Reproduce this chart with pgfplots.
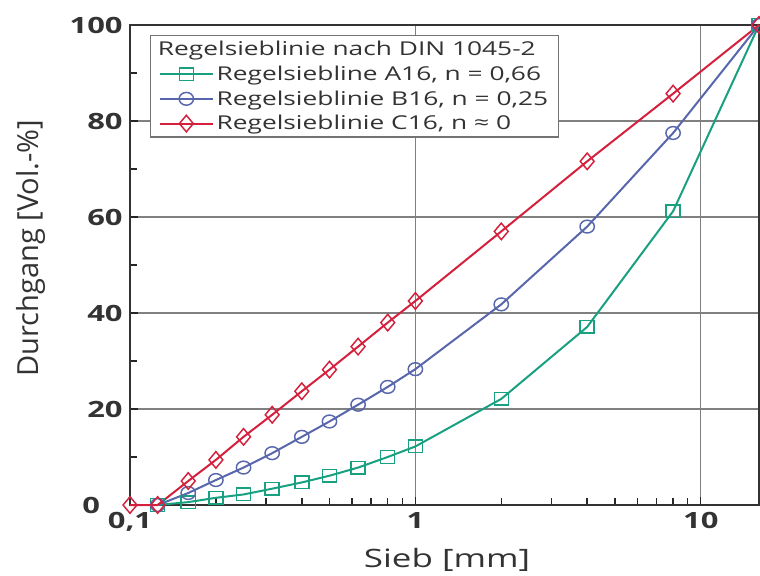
\documentclass[border=0pt]{standalone}
\usepackage{pgfplots}
\pgfplotsset{compat=1.18}
\usepackage{fontspec}
\setmainfont{Open Sans}[FakeStretch=1.38]
\newfontfamily\ylabfont{Open Sans}
\definecolor{cA}{RGB}{25,160,128}
\definecolor{cB}{RGB}{88,102,172}
\definecolor{cC}{RGB}{212,32,60}
\begin{document}
\begin{tikzpicture}
\begin{axis}[
  scale only axis,
  width=471.75pt, height=360pt,
  xmode=log,
  xmin=0.1, xmax=16,
  ymin=0, ymax=100,
  xtick={0.1,1,10},
  xticklabels={0{,}1,1,10},
  minor xtick={0.2,0.3,0.4,0.5,0.6,0.7,0.8,0.9,2,3,4,5,6,7,8,9},
  ytick={0,20,40,60,80,100},
  yticklabels={{0\hspace*{17pt}},20,40,60,80,100},
  minor ytick={10,30,50,70,90},
  /pgf/number format/assume math mode=true,
  tick pos=left,
  tick align=inside,
  major tick length=6pt,
  minor tick length=5pt,
  grid=major,
  major grid style={black!50, line width=0.8pt},
  axis line style={black!80, line width=1.3pt},
  every tick/.style={black!85, line width=1.1pt},
  tick label style={font=\fontsize{16.8}{18}\selectfont\bfseries, text=black!80},
  xticklabel style={yshift=-2pt},
  yticklabel style={xshift=-2pt},
  xlabel={Sieb [mm]},
  ylabel={\ylabfont Durchgang [Vol.-\%]},
  xlabel style={font=\fontsize{19}{21}\selectfont, text=black!80, at={(axis description cs:0.504,-0.081)}, anchor=north},
  ylabel style={font=\fontsize{21.8}{23}\selectfont, text=black!80, at={(axis description cs:-0.127,0.535)}, anchor=south},
  legend style={at={(axis description cs:0.032,0.979)}, anchor=north west,
    draw=black!55, line width=1pt, font=\fontsize{14.3}{16}\selectfont, text=black!80,
    row sep=2.2pt, inner xsep=6pt, inner ysep=2pt},
  legend cell align=left,
  legend image code/.code={\draw[mark repeat=2,mark phase=2] plot coordinates {(0cm,0cm) (0.7cm,0cm) (1.4cm,0cm)};},
  clip=false,
]
\addlegendimage{empty legend}
\addlegendentry{\hspace*{-44pt}Regelsieblinie nach DIN 1045-2}
\addplot[cA, line width=1.5pt, mark=square, mark size=4.7pt, mark options={fill=white, line width=1.1pt, xscale=1.12}] coordinates {
(0.125,0) (0.16,0.6) (0.2,1.5) (0.25,2.2) (0.315,3.4) (0.4,4.7) (0.5,6.1) (0.63,7.8) (0.8,10) (1,12.2) (2,22.1) (4,37.1) (8,61.2) (16,100)};
\addlegendentry{Regelsiebline A16, n = 0,66}
\addplot[cB, line width=1.5pt, mark=o, mark size=4.8pt, mark options={fill=white, line width=1.1pt, xscale=1.12}] coordinates {
(0.125,0) (0.16,2.5) (0.2,5.2) (0.25,7.8) (0.315,10.8) (0.4,14.2) (0.5,17.4) (0.63,20.9) (0.8,24.6) (1,28.3) (2,41.8) (4,58) (8,77.5) (16,100)};
\addlegendentry{Regelsieblinie B16, n = 0,25}
\addplot[cC, line width=1.5pt, mark=diamond, mark size=6.2pt, mark options={fill=white, line width=1.1pt, xscale=1.12}] coordinates {
(0.1,0) (0.125,0) (0.16,5) (0.2,9.4) (0.25,14.2) (0.315,18.8) (0.4,23.7) (0.5,28.2) (0.63,33) (0.8,38) (1,42.5) (2,57) (4,71.6) (8,85.7) (16,100)};
\addlegendentry{Regelsieblinie C16, n ≈ 0}
\coordinate (SW) at (rel axis cs:0,0);
\coordinate (NE) at (rel axis cs:1,1);
\end{axis}
\pgfresetboundingbox
\path ([shift={(-97.5pt,-52.5pt)}]SW) rectangle ([shift={(0.75pt,18.75pt)}]NE);
\end{tikzpicture}
\end{document}
